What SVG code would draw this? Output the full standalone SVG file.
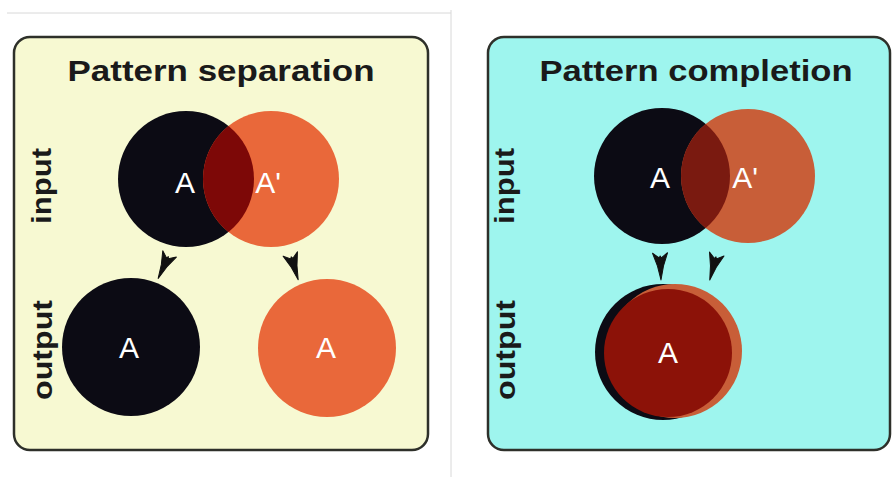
<svg xmlns="http://www.w3.org/2000/svg" width="893" height="477" viewBox="0 0 893 477">
<style>
.title{font-family:"Liberation Sans",Arial,sans-serif;font-weight:bold;font-size:30px;fill:#1a1a1a;text-anchor:middle}
.side{font-family:"Liberation Sans",Arial,sans-serif;font-weight:bold;font-size:28px;fill:#1a1a1a;text-anchor:middle}
.lbl{font-family:"Liberation Sans",Arial,sans-serif;font-size:30px;fill:#ffffff;text-anchor:middle}
.panel{stroke:#2e302a;stroke-width:2.5}
.arrow{fill:#111111;stroke:#111111;stroke-width:1;stroke-linejoin:round}
</style>
<defs>
<polygon id="ah" points="0,28 -3,14 -7.5,1 -1,6 0,4 1,6 7.5,1 3,14"/>
<clipPath id="clipL"><circle cx="186" cy="179" r="68"/></clipPath>
<clipPath id="clipR"><circle cx="662" cy="176" r="68"/></clipPath>
</defs>
<rect width="893" height="477" fill="#ffffff"/>
<line x1="7" y1="13" x2="451" y2="13" stroke="#d8d8d8" stroke-width="1"/>
<line x1="451" y1="10" x2="451" y2="477" stroke="#d8d8d8" stroke-width="1"/>

<g id="panel-separation">
<rect class="panel" x="14" y="37" width="414" height="413" rx="16" fill="#f7f9d2"/>
<text class="title" x="221" y="81" textLength="307" lengthAdjust="spacingAndGlyphs">Pattern separation</text>
<text class="side" transform="translate(51,186) rotate(-90)" textLength="76" lengthAdjust="spacingAndGlyphs">input</text>
<text class="side" transform="translate(52,350) rotate(-90)" textLength="100" lengthAdjust="spacingAndGlyphs">output</text>
</g>
<g id="sep-input">
<circle cx="186" cy="179" r="68" fill="#0c0b14"/>
<circle cx="271" cy="179" r="68" fill="#e9683a"/>
<circle cx="271" cy="179" r="68" fill="#7d0807" clip-path="url(#clipL)"/>
<text class="lbl" x="185" y="193">A</text>
<text class="lbl" x="268" y="193">A'</text>
</g>
<g id="sep-output-A">
<circle cx="131" cy="347" r="69" fill="#0c0b14"/>
<text class="lbl" x="129" y="358">A</text>
</g>
<g id="sep-output-Aprime">
<circle cx="327" cy="348" r="69" fill="#e9683a"/>
<text class="lbl" x="326" y="358">A</text>
</g>

<g id="panel-completion">
<rect class="panel" x="488" y="37" width="402" height="413" rx="16" fill="#9ef5ee"/>
<text class="title" x="696" y="81" textLength="313" lengthAdjust="spacingAndGlyphs">Pattern completion</text>
<text class="side" transform="translate(514,186) rotate(-90)" textLength="76" lengthAdjust="spacingAndGlyphs">input</text>
<text class="side" transform="translate(515,350) rotate(-90)" textLength="100" lengthAdjust="spacingAndGlyphs">output</text>
</g>
<g id="comp-input">
<circle cx="662" cy="176" r="68" fill="#0c0b14"/>
<circle cx="748" cy="176" r="67" fill="#c85e38"/>
<circle cx="748" cy="176" r="67" fill="#7a1a10" clip-path="url(#clipR)"/>
<text class="lbl" x="660" y="188">A</text>
<text class="lbl" x="745" y="188">A'</text>
</g>
<g id="comp-output">
<circle cx="663" cy="352" r="68" fill="#0c0b14"/>
<circle cx="675" cy="351" r="67" fill="#c85e38"/>
<circle cx="668" cy="353" r="64" fill="#8c1208"/>
<text class="lbl" x="668" y="363">A</text>
</g>

<g id="connectors" class="arrow">
<use href="#ah" transform="translate(170,253) rotate(25)"/>
<use href="#ah" transform="translate(290,253) rotate(-17)"/>
<use href="#ah" transform="translate(660,252) rotate(-2)"/>
<use href="#ah" transform="translate(717,253) rotate(15)"/>
</g>
</svg>
